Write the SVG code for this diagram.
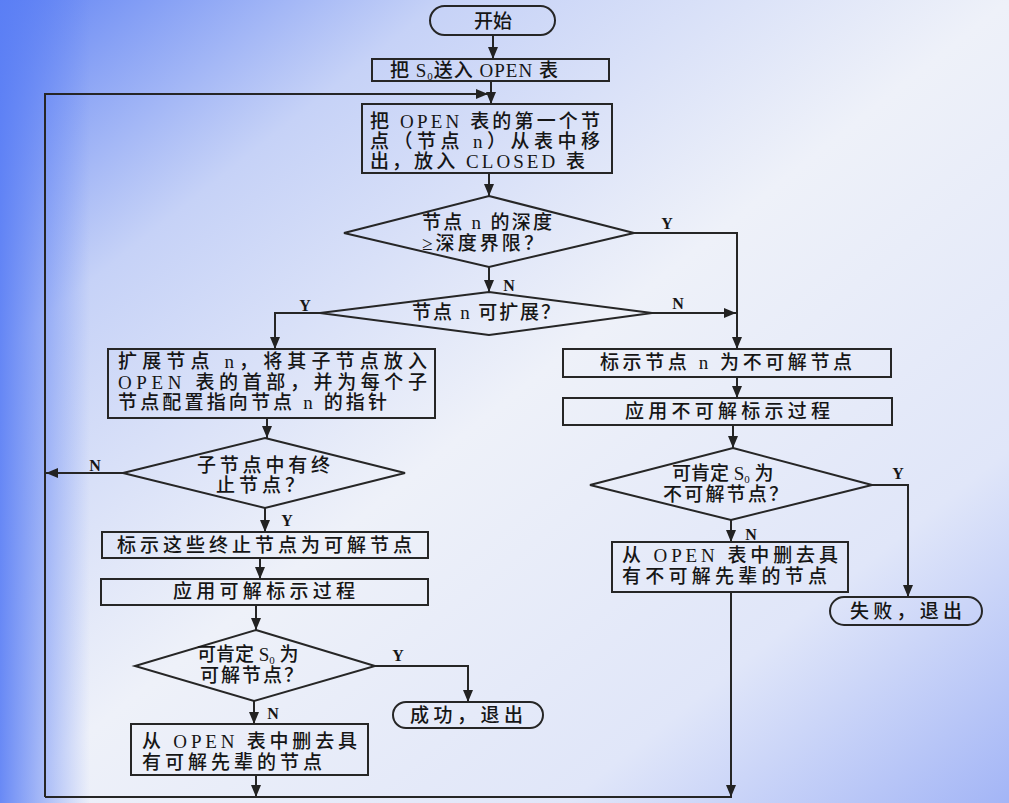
<svg xmlns="http://www.w3.org/2000/svg" width="1009" height="803" viewBox="0 0 1009 803">
<defs>
<linearGradient id="bg" x1="0" y1="0" x2="1" y2="1">
<stop offset="0" stop-color="#6284f4"/>
<stop offset="0.22" stop-color="#c6d2f7"/>
<stop offset="0.5" stop-color="#eef1f9"/>
<stop offset="0.78" stop-color="#e0e6f9"/>
<stop offset="1" stop-color="#a3b5f6"/>
</linearGradient>
<linearGradient id="lb" x1="0" y1="0" x2="1" y2="0">
<stop offset="0" stop-color="#5a7ef5" stop-opacity="0.9"/>
<stop offset="1" stop-color="#5a7ef5" stop-opacity="0"/>
</linearGradient>
<marker id="ah" viewBox="0 0 12 10" refX="12" refY="5" markerWidth="12" markerHeight="10" markerUnits="userSpaceOnUse" orient="auto">
<path d="M0,0 L12,5 L0,10 Z" fill="#222"/>
</marker>
<style>
.s{fill:none;stroke:#262626;stroke-width:2}
.c{fill:none;stroke:#262626;stroke-width:2;marker-end:url(#ah)}
.l{fill:none;stroke:#262626;stroke-width:2}
text{font-family:"Liberation Serif","Noto Sans CJK SC",serif;font-size:19px;font-weight:500;fill:#161616}
.m{text-anchor:middle}
.yn{font-size:16px;font-weight:bold;text-anchor:middle}
.sub{font-size:11px}
</style>
</defs>
<rect width="1009" height="803" fill="url(#bg)"/>
<rect width="90" height="803" fill="url(#lb)"/>

<g id="connectors">
<path class="c" d="M493,35 V59"/>
<path class="c" d="M491,81 V104"/>
<path class="c" d="M45,797 V94 H488"/>
<path class="c" d="M489,173 V196"/>
<path class="c" d="M634,233 H737 V349"/>
<path class="c" d="M489,267 V292"/>
<path class="c" d="M652,313 H736"/>
<path class="c" d="M320,313 H275 V349"/>
<path class="c" d="M267,418 V438"/>
<path class="c" d="M123,473 H46"/>
<path class="c" d="M265,508 V532"/>
<path class="c" d="M260,558 V579"/>
<path class="c" d="M256,605 V630"/>
<path class="c" d="M375,666 H468 V702"/>
<path class="c" d="M254,701 V724"/>
<path class="c" d="M256,775 V797"/>
<path class="l" d="M45,797 H732"/>
<path class="c" d="M737,377 V398"/>
<path class="c" d="M733,425 V448"/>
<path class="c" d="M872,485 H908 V597"/>
<path class="c" d="M731,520 V542"/>
<path class="c" d="M731,592 V797"/>
<text class="yn" x="667" y="229">Y</text>
<text class="yn" x="509" y="291">N</text>
<text class="yn" x="678" y="309">N</text>
<text class="yn" x="305" y="311">Y</text>
<text class="yn" x="95" y="471">N</text>
<text class="yn" x="287" y="526">Y</text>
<text class="yn" x="398" y="661">Y</text>
<text class="yn" x="273" y="719">N</text>
<text class="yn" x="898" y="479">Y</text>
<text class="yn" x="751" y="540">N</text>
</g>

<g id="start">
<rect class="s" x="430" y="6" width="125" height="29" rx="14.5"/>
<text class="m" x="493" y="28">开始</text>
</g>

<g id="put-s0">
<rect class="s" x="372" y="59" width="237" height="22"/>
<text x="390" y="77" letter-spacing="1">把 S<tspan class="sub" dy="3">0</tspan><tspan dy="-3">送入 OPEN 表</tspan></text>
</g>

<g id="take-first">
<rect class="s" x="362" y="104" width="250" height="69"/>
<text x="370" y="128" textLength="230" lengthAdjust="spacing">把 OPEN 表的第一个节</text>
<text x="370" y="148" textLength="230" lengthAdjust="spacing">点（节点 n）从表中移</text>
<text x="370" y="168" textLength="215" lengthAdjust="spacing">出，放入 CLOSED 表</text>
</g>

<g id="depth-check">
<polygon class="s" points="489,196 634,233 489,267 344,233"/>
<text x="422" y="229" textLength="130" lengthAdjust="spacing">节点 n 的深度</text>
<text x="422" y="250" textLength="121" lengthAdjust="spacing">≥深度界限？</text>
</g>

<g id="expandable">
<polygon class="s" points="489,292 652,313 489,335 320,313"/>
<text x="412" y="319" textLength="148" lengthAdjust="spacing">节点 n 可扩展？</text>
</g>

<g id="expand">
<rect class="s" x="108" y="349" width="327" height="69"/>
<text x="118" y="368" textLength="309" lengthAdjust="spacing">扩展节点 n，将其子节点放入</text>
<text x="118" y="389" textLength="309" lengthAdjust="spacing">OPEN 表的首部，并为每个子</text>
<text x="118" y="409" textLength="269" lengthAdjust="spacing">节点配置指向节点 n 的指针</text>
</g>

<g id="has-terminal">
<polygon class="s" points="265,438 405,473 265,508 123,473"/>
<text x="197" y="472" textLength="133" lengthAdjust="spacing">子节点中有终</text>
<text x="216" y="492" textLength="88" lengthAdjust="spacing">止节点？</text>
</g>

<g id="mark-solvable">
<rect class="s" x="102" y="532" width="326" height="26"/>
<text x="117" y="552" textLength="295" lengthAdjust="spacing">标示这些终止节点为可解节点</text>
</g>

<g id="apply-solvable">
<rect class="s" x="101" y="579" width="327" height="26"/>
<text x="173" y="598" textLength="182" lengthAdjust="spacing">应用可解标示过程</text>
</g>

<g id="s0-solvable">
<polygon class="s" points="256,630 375,666 254,701 135,666"/>
<text x="197" y="661">可肯定 S<tspan class="sub" dy="3">0</tspan><tspan dy="-3"> 为</tspan></text>
<text x="200" y="682" textLength="103" lengthAdjust="spacing">可解节点？</text>
</g>

<g id="success">
<rect class="s" x="393" y="702" width="150" height="26" rx="13"/>
<text x="410" y="722" textLength="113" lengthAdjust="spacing">成功，退出</text>
</g>

<g id="delete-solvable">
<rect class="s" x="131" y="724" width="237" height="51"/>
<text x="142" y="748" textLength="215" lengthAdjust="spacing">从 OPEN 表中删去具</text>
<text x="142" y="769" textLength="180" lengthAdjust="spacing">有可解先辈的节点</text>
</g>

<g id="mark-unsolvable">
<rect class="s" x="563" y="349" width="328" height="28"/>
<text x="600" y="369" textLength="252" lengthAdjust="spacing">标示节点 n 为不可解节点</text>
</g>

<g id="apply-unsolvable">
<rect class="s" x="563" y="398" width="329" height="27"/>
<text x="625" y="418" textLength="205" lengthAdjust="spacing">应用不可解标示过程</text>
</g>

<g id="s0-unsolvable">
<polygon class="s" points="733,448 872,485 731,520 590,485"/>
<text x="672" y="480">可肯定 S<tspan class="sub" dy="3">0</tspan><tspan dy="-3"> 为</tspan></text>
<text x="663" y="501" textLength="125" lengthAdjust="spacing">不可解节点？</text>
</g>

<g id="delete-unsolvable">
<rect class="s" x="612" y="542" width="236" height="50"/>
<text x="622" y="562" textLength="216" lengthAdjust="spacing">从 OPEN 表中删去具</text>
<text x="622" y="583" textLength="205" lengthAdjust="spacing">有不可解先辈的节点</text>
</g>

<g id="fail">
<rect class="s" x="830" y="597" width="152" height="28" rx="14"/>
<text x="850" y="618" textLength="112" lengthAdjust="spacing">失败，退出</text>
</g>
</svg>
